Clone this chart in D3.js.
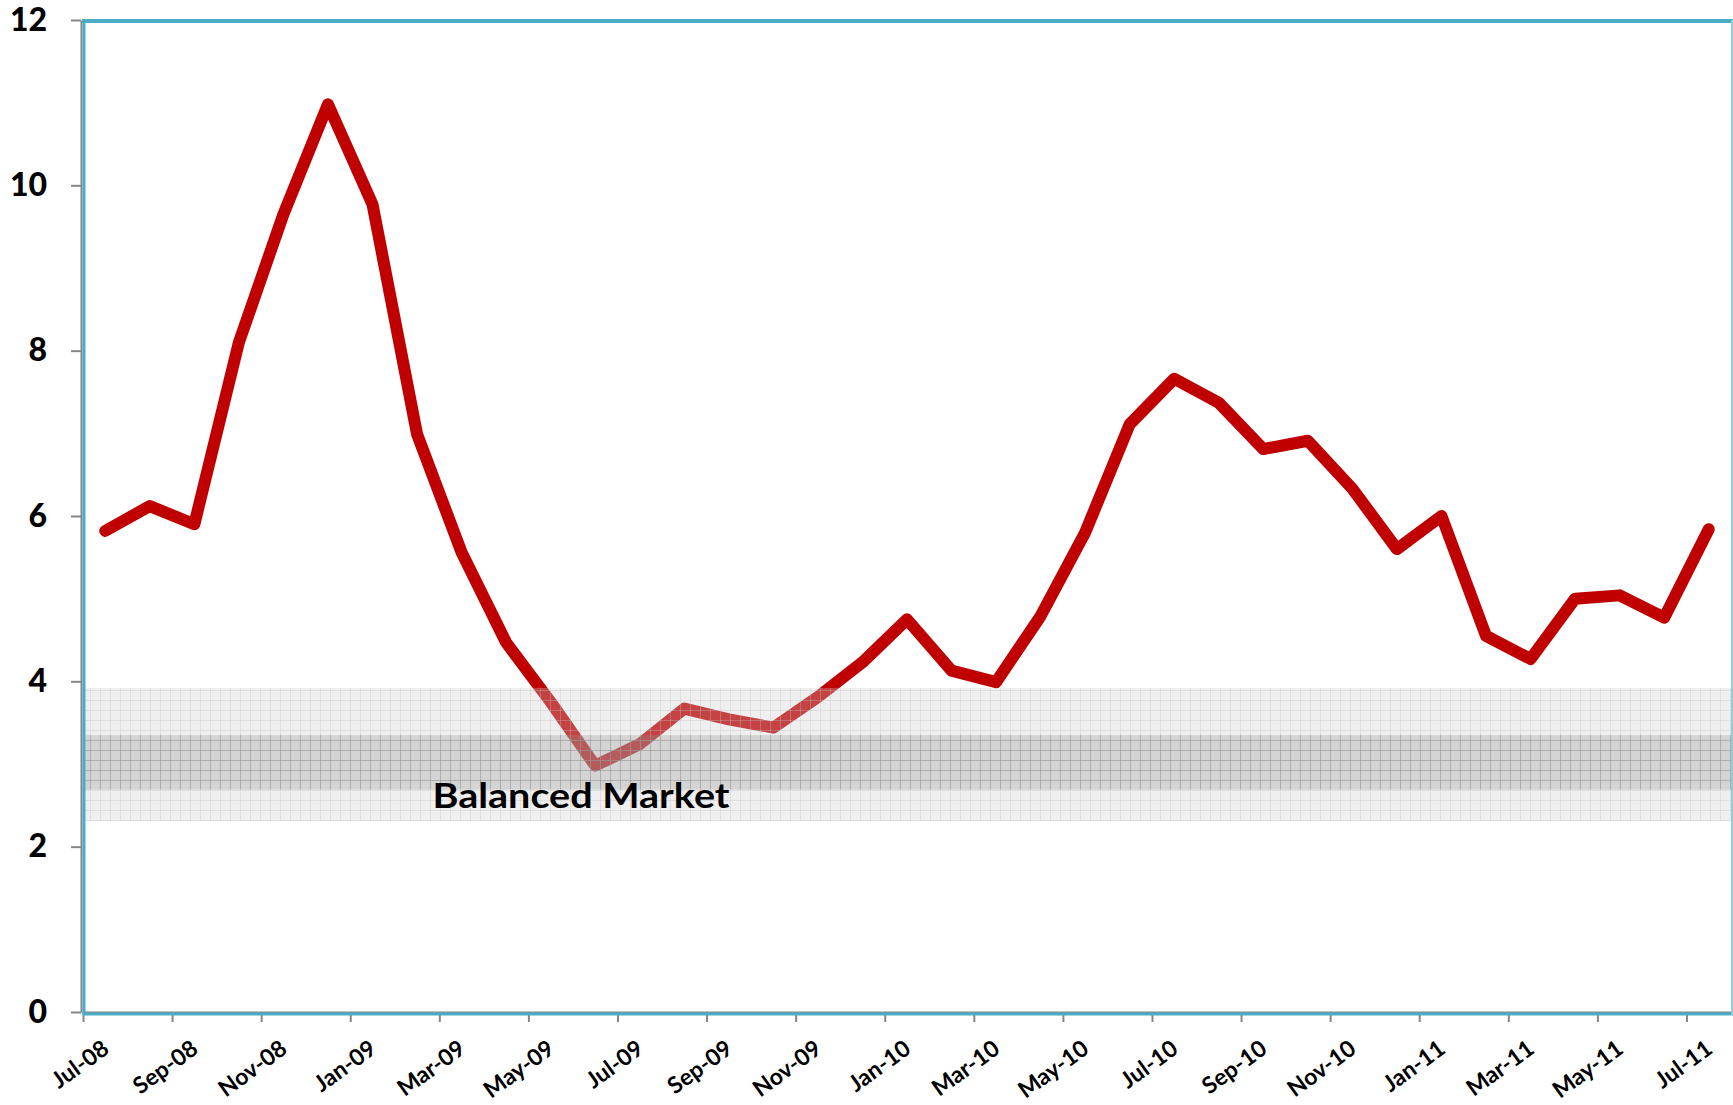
<!DOCTYPE html>
<html>
<head>
<meta charset="utf-8">
<script src="https://cdn.jsdelivr.net/npm/d3@7"></script>
<style>
  html, body { margin: 0; padding: 0; background: #fff; }
  svg { display: block; }
  text { font-family: Lato, "Open Sans", "Liberation Sans", sans-serif; font-weight: bold; fill: #000; }
</style>
</head>
<body>
<svg id="chart" width="1733" height="1105"></svg>
<script>
// ---------- data ----------
const months = ["Jul-08","Aug-08","Sep-08","Oct-08","Nov-08","Dec-08",
  "Jan-09","Feb-09","Mar-09","Apr-09","May-09","Jun-09","Jul-09","Aug-09","Sep-09","Oct-09","Nov-09","Dec-09",
  "Jan-10","Feb-10","Mar-10","Apr-10","May-10","Jun-10","Jul-10","Aug-10","Sep-10","Oct-10","Nov-10","Dec-10",
  "Jan-11","Feb-11","Mar-11","Apr-11","May-11","Jun-11","Jul-11"];
const values = [5.82, 6.12, 5.90, 8.10, 9.65, 10.98,
  9.77, 6.99, 5.56, 4.47, 3.75, 2.98, 3.24, 3.67, 3.54, 3.44, 3.81, 4.23,
  4.75, 4.13, 3.99, 4.79, 5.80, 7.11, 7.66, 7.37, 6.81, 6.91, 6.33, 5.60,
  6.00, 4.55, 4.27, 5.00, 5.04, 4.77, 5.84];
const yTicks = [0, 2, 4, 6, 8, 10, 12];
const xTickIndex = [0, 2, 4, 6, 8, 10, 12, 14, 16, 18, 20, 22, 24, 26, 28, 30, 32, 34, 36];
const bandOuter = [2.31, 3.92];
const bandInner = [2.69, 3.35];
const bandLabel = "Balanced Market";

// ---------- layout ----------
const svg = d3.select("#chart");
const L = 83, R = 1731, T = 20, B = 1012;

const x = d3.scaleLinear().domain([0, months.length]).range([L, R]);
const y = d3.scaleLinear().domain([0, 12]).range([B, T]);

// patterns
const defs = svg.append("defs");
const p1 = defs.append("pattern").attr("id", "gridLight").attr("patternUnits", "userSpaceOnUse")
  .attr("width", 10).attr("height", 10);
p1.append("rect").attr("width", 10).attr("height", 10).attr("fill", "rgb(205,205,205)").attr("fill-opacity", 0.32);
p1.append("path").attr("d", "M0,0.5H10M0.5,0V10").attr("stroke", "rgb(190,190,190)").attr("stroke-opacity", 0.35).attr("stroke-width", 1);
const p2 = defs.append("pattern").attr("id", "gridDark").attr("patternUnits", "userSpaceOnUse")
  .attr("width", 10).attr("height", 10);
p2.append("rect").attr("width", 10).attr("height", 10).attr("fill", "rgb(150,150,150)").attr("fill-opacity", 0.3);
p2.append("path").attr("d", "M0,0.5H10M0.5,0V10").attr("stroke", "rgb(140,140,140)").attr("stroke-opacity", 0.45).attr("stroke-width", 1);

// y axis
const yAxis = svg.append("g").attr("transform", `translate(${L - 2},0)`)
  .call(d3.axisLeft(y).tickValues(yTicks).tickSize(10).tickPadding(24).tickSizeOuter(0));
yAxis.select(".domain").attr("stroke", "#868686").attr("stroke-width", 2);
yAxis.selectAll(".tick line").attr("stroke", "#868686").attr("stroke-width", 2);
yAxis.selectAll(".tick text").style("font-size", "32px").style("font-weight", "900").attr("fill", "#000");

// x axis
const xAxis = svg.append("g").attr("transform", `translate(0,${B})`)
  .call(d3.axisBottom(x).tickValues(xTickIndex).tickFormat(i => months[i]).tickSize(10).tickSizeOuter(0));
xAxis.select(".domain").attr("stroke", "#868686").attr("stroke-width", 2);
xAxis.selectAll(".tick line").attr("stroke", "#868686").attr("stroke-width", 2);
xAxis.selectAll(".tick text")
  .style("font-size", "23px")
  .attr("fill", "#000")
  .attr("text-anchor", "end")
  .attr("x", 27).attr("y", 40).attr("dy", null)
  .attr("transform", "rotate(-36,27,40)");

// line
const line = d3.line().x((d, i) => x(i + 0.5)).y(d => y(d));
svg.append("path").datum(values)
  .attr("d", line)
  .attr("fill", "none")
  .attr("stroke", "#C00000")
  .attr("stroke-width", 12)
  .attr("stroke-linejoin", "round")
  .attr("stroke-linecap", "round");

// balanced market band
svg.append("rect").attr("x", L).attr("width", R - L)
  .attr("y", y(bandOuter[1])).attr("height", y(bandOuter[0]) - y(bandOuter[1]))
  .attr("fill", "url(#gridLight)");
svg.append("rect").attr("x", L).attr("width", R - L)
  .attr("y", y(bandInner[1])).attr("height", y(bandInner[0]) - y(bandInner[1]))
  .attr("fill", "url(#gridDark)");

svg.append("text")
  .attr("x", 581).attr("y", 808)
  .attr("text-anchor", "middle")
  .attr("textLength", 297).attr("lengthAdjust", "spacingAndGlyphs")
  .style("font-size", "34px")
  .text(bandLabel);

// plot border
svg.append("line").attr("x1", L - 1).attr("x2", 1733).attr("y1", T + 1).attr("y2", T + 1)
  .attr("stroke", "#4BACC6").attr("stroke-width", 4);
svg.append("line").attr("x1", L + 1).attr("x2", L + 1).attr("y1", T).attr("y2", B + 3)
  .attr("stroke", "#4BACC6").attr("stroke-width", 3);
svg.append("line").attr("x1", L).attr("x2", 1733).attr("y1", B + 2).attr("y2", B + 2)
  .attr("stroke", "#4BACC6").attr("stroke-width", 3);
svg.append("line").attr("x1", 1732).attr("x2", 1732).attr("y1", T).attr("y2", B + 3)
  .attr("stroke", "#92CDDC").attr("stroke-width", 2);
</script>
</body>
</html>
